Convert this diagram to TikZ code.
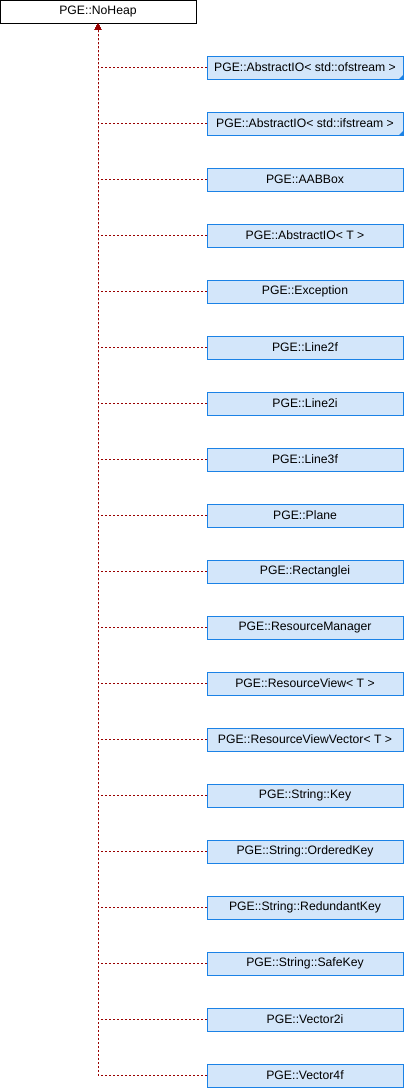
\documentclass[tikz,border=0pt]{standalone}
\usepackage{fontspec}
\setmainfont{Liberation Sans}
\usetikzlibrary{arrows.meta}
\definecolor{boxfill}{RGB}{211,230,250}
\definecolor{boxdraw}{RGB}{27,130,230}
\definecolor{edgecol}{RGB}{153,0,0}
\begin{document}
\begin{tikzpicture}[x=1pt,y=-1pt,
  cls/.style={draw=boxdraw,fill=boxfill,line width=1pt,minimum width=196pt,minimum height=23pt,inner sep=0pt,font=\fontsize{12.2}{14}\selectfont},
  rootbox/.style={draw=black,fill=white,line width=1pt,minimum width=196pt,minimum height=23pt,inner sep=0pt,font=\fontsize{12.2}{14}\selectfont},
  inh/.style={draw=edgecol,line width=1pt,dash pattern=on 2pt off 2pt,-{Triangle[width=6pt,length=6pt]}},
  trunc/.style={fill=boxdraw,draw=none}]
\useasboundingbox (0,0) rectangle (404,1088);
\node[rootbox] (root) at (98,11.5) {PGE::NoHeap};
\foreach \i/\t in {0/{PGE::AbstractIO< std::ofstream >},
  1/{PGE::AbstractIO< std::ifstream >},
  2/{PGE::AABBox},
  3/{PGE::AbstractIO< T >},
  4/{PGE::Exception},
  5/{PGE::Line2f},
  6/{PGE::Line2i},
  7/{PGE::Line3f},
  8/{PGE::Plane},
  9/{PGE::Rectanglei},
  10/{PGE::ResourceManager},
  11/{PGE::ResourceView< T >},
  12/{PGE::ResourceViewVector< T >},
  13/{PGE::String::Key},
  14/{PGE::String::OrderedKey},
  15/{PGE::String::RedundantKey},
  16/{PGE::String::SafeKey},
  17/{PGE::Vector2i},
  18/{PGE::Vector4f}}
{
  \node[cls] (c\i) at (305,67.5+56*\i) {\t};
}
\foreach \i in {0,...,18}{
  \draw[inh] (c\i.west) -| (root.south);
}
\foreach \i in {0,1}{
  \fill[trunc] (c\i.south east) -- ++(0,-5) -- ++(-5,5) -- cycle;
}
\end{tikzpicture}
\end{document}
